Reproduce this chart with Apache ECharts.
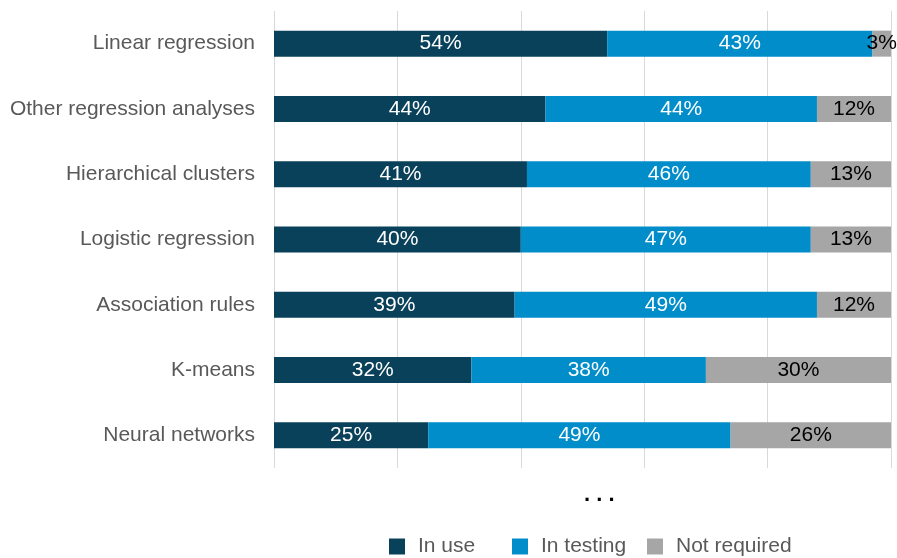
<!DOCTYPE html>
<html><head><meta charset="utf-8">
<script src="https://cdn.jsdelivr.net/npm/echarts@6/dist/echarts.min.js"></script>
<style>html,body{margin:0;padding:0;background:#fff}#c{width:897px;height:558px}</style>
</head><body><div id="c"></div>
<script>
const categories = ["Linear regression","Other regression analyses","Hierarchical clusters","Logistic regression","Association rules","K-means","Neural networks"];
const inUse = [54,44,41,40,39,32,25];
const inTesting = [43,44,46,47,49,38,49];
const notRequired = [3,12,13,13,12,30,26];
const seriesNames = ["In use","In testing","Not required"];
const colors = ["#0a415a","#008dca","#a6a6a6"];
const font = "'Liberation Sans', Arial, sans-serif";

const chart = echarts.init(document.getElementById('c'), null, {renderer:'canvas'});
function mk(name, data, color, labelColor){
  return {name, type:'bar', stack:'s', data, barWidth:26, itemStyle:{color},
    label:{show:true, position:'inside', formatter:'{c}%', color:labelColor, fontSize:21, fontFamily:font},
    emphasis:{disabled:true}};
}
const legendLefts = [389, 512, 647];
const legends = seriesNames.map((n,i)=>({
  data:[n], left:legendLefts[i], top:536, padding:0, itemWidth:16, itemHeight:16, icon:'rect', itemGap:0,
  textStyle:{fontSize:21, color:'#595959', fontFamily:font, padding:[0,0,0,8]}
}));
chart.setOption({
  animation:false,
  textStyle:{fontFamily:font},
  grid:{left:274, right:6, top:11, bottom:90, containLabel:false},
  xAxis:{type:'value', min:0, max:100, interval:20, axisLabel:{show:false}, axisLine:{show:false}, axisTick:{show:false},
    splitLine:{lineStyle:{color:'#d9d9d9', width:1}}},
  yAxis:{type:'category', data:categories, inverse:true, axisLine:{show:false}, axisTick:{show:false},
    axisLabel:{fontSize:21, color:'#595959', fontFamily:font, margin:19}},
  legend:legends,
  graphic:[{type:'text', left:584, top:484, style:{text:'. . .', fill:'#000', font:'bold 22px '+font}}],
  series:[mk(seriesNames[0], inUse, colors[0], '#fff'), mk(seriesNames[1], inTesting, colors[1], '#fff'), mk(seriesNames[2], notRequired, colors[2], '#000')]
});
</script></body></html>
